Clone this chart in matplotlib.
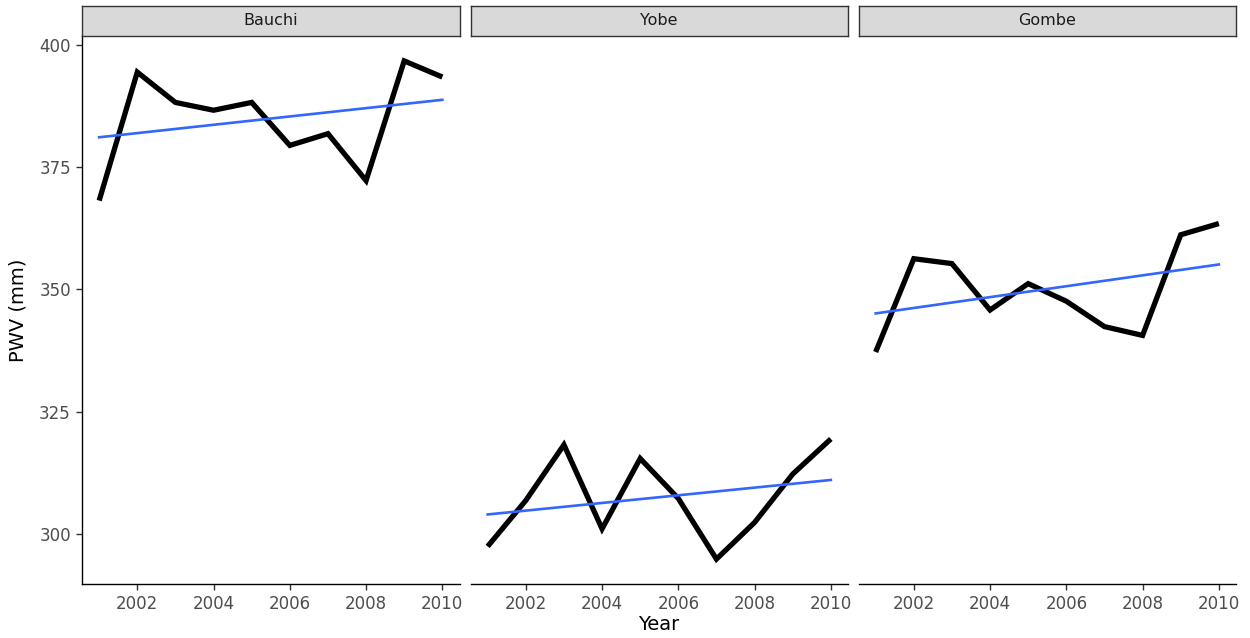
import numpy as np
import matplotlib.pyplot as plt

# ======= DATA ======= #
years = np.arange(2001, 2011)
states = ['Bauchi', 'Yobe', 'Gombe']
pwv_bauchi = [368.2, 394.5, 388.3, 386.7, 388.3, 379.5, 381.9, 372.3, 396.8, 393.5]
pwv_yobe = [297.4, 306.8, 318.2, 301.0, 315.4, 307.2, 294.8, 302.3, 312.2, 319.4]
pwv_gombe = [337.2, 356.3, 355.3, 345.8, 351.2, 347.6, 342.4, 340.6, 361.2, 363.5]
pwv = [pwv_bauchi, pwv_yobe, pwv_gombe]

plt.rcParams['font.family'] = ['DejaVu Sans']

fig = plt.figure(figsize=(12.5, 6.38), dpi=100)

W, H = 1250.0, 638.0
lefts = [82, 470.5, 858.5]
pw = 377.5
top_px, bot_px = 36, 584
strip_top = 5.5

allv = np.concatenate(pwv)
span = allv.max() - allv.min()
ylim = (allv.min() - 0.05 * span, allv.max() + 0.05 * span)
xlim = (2001 - 0.45, 2010 + 0.45)

grey_txt = '#4d4d4d'

for i, (name, vals) in enumerate(zip(states, pwv)):
    ax = fig.add_axes([lefts[i] / W, 1 - bot_px / H, pw / W, (bot_px - top_px) / H])
    ax.plot(years, vals, color='black', lw=3.8, solid_joinstyle='miter',
            solid_capstyle='butt', zorder=2)
    # linear trend (lm fit)
    k, b = np.polyfit(years, vals, 1)
    ax.plot(years, k * years + b, color='#3366FF', lw=1.9, zorder=3)

    ax.set_xlim(xlim)
    ax.set_ylim(ylim)
    ax.set_xticks(np.arange(2002, 2011, 2))
    ax.set_yticks([300, 325, 350, 375, 400])
    for s in ['top', 'right']:
        ax.spines[s].set_visible(False)
    ax.spines['bottom'].set_linewidth(1.0)
    ax.spines['left'].set_linewidth(1.0)
    ax.tick_params(axis='both', length=4, width=1.0, color='#333333',
                   labelsize=12, labelcolor=grey_txt, pad=4)
    if i > 0:
        ax.spines['left'].set_visible(False)
        ax.tick_params(axis='y', left=False, labelleft=False)

    # facet strip
    sax = fig.add_axes([lefts[i] / W, 1 - top_px / H, pw / W, (top_px - strip_top) / H])
    sax.set_facecolor('#d9d9d9')
    sax.set_xticks([])
    sax.set_yticks([])
    for s in sax.spines.values():
        s.set_color('#333333')
        s.set_linewidth(1.0)
    sax.text(0.5, 0.5, name, ha='center', va='center', fontsize=11.5,
             color='#1a1a1a', transform=sax.transAxes)

fig.text(0.5 * (lefts[0] + lefts[2] + pw) / W, 1 - 625 / H, 'Year',
         ha='center', va='center', fontsize=14)
fig.text(18 / W, 1 - (top_px + bot_px) / 2 / H, 'PWV (mm)', rotation=90,
         ha='center', va='center', fontsize=14)

fig.savefig('out.png', dpi=100)
